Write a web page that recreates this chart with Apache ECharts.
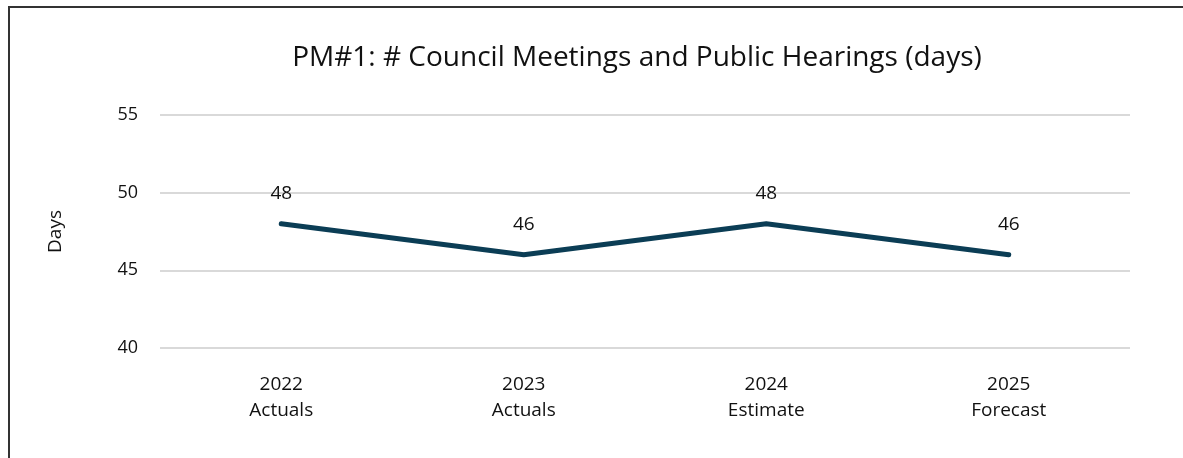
<!DOCTYPE html>
<html>
<head>
<meta charset="utf-8">
<script src="https://cdn.jsdelivr.net/npm/echarts@6/dist/echarts.min.js"></script>
<style>
  html, body { margin: 0; padding: 0; background: #fff; }
  #chart { width: 1183px; height: 458px; }
  #frame { position: absolute; left: 8px; top: 6px; width: 1200px; height: 500px;
           border-left: 2px solid #333; border-top: 2px solid #333; pointer-events: none; }
</style>
</head>
<body>
<div id="chart"></div>
<div id="frame"></div>
<script>
// data
const years = ['2022', '2023', '2024', '2025'];
const kinds = ['Actuals', 'Actuals', 'Estimate', 'Forecast'];
const days = [48, 46, 48, 46];

const font = '"Open Sans", Lato, sans-serif';
const categories = years.map((y, i) => y + '\n' + kinds[i]);

const myChart = echarts.init(document.getElementById('chart'));
myChart.setOption({
  animation: false,
  title: {
    text: 'PM#1: # Council Meetings and Public Hearings (days)',
    left: 632,
    textAlign: 'center',
    top: 39,
    textStyle: { fontFamily: font, fontSize: 28, fontWeight: 'normal', color: '#111' }
  },
  grid: { left: 160, right: 53, top: 115, bottom: 110 },
  xAxis: {
    type: 'category',
    data: categories,
    axisLine: { show: false },
    axisTick: { show: false },
    axisLabel: { fontFamily: font, fontSize: 19, color: '#111', lineHeight: 26, margin: 24 }
  },
  yAxis: {
    type: 'value',
    min: 40,
    max: 55,
    interval: 5,
    name: 'Days',
    nameLocation: 'middle',
    nameGap: 95,
    nameTextStyle: { fontFamily: font, fontSize: 19, color: '#111' },
    axisLabel: { fontFamily: font, fontSize: 18, color: '#111', margin: 22 },
    splitLine: { lineStyle: { color: '#d9d9d9', width: 2 } }
  },
  series: [{
    type: 'line',
    data: days,
    symbol: 'circle',
    symbolSize: 4,
    itemStyle: { color: '#0b3d55' },
    lineStyle: { color: '#0b3d55', width: 5, cap: 'round', join: 'round' },
    label: {
      show: true,
      position: 'top',
      distance: 19,
      fontFamily: font,
      fontSize: 19,
      color: '#111'
    }
  }]
});
</script>
</body>
</html>
